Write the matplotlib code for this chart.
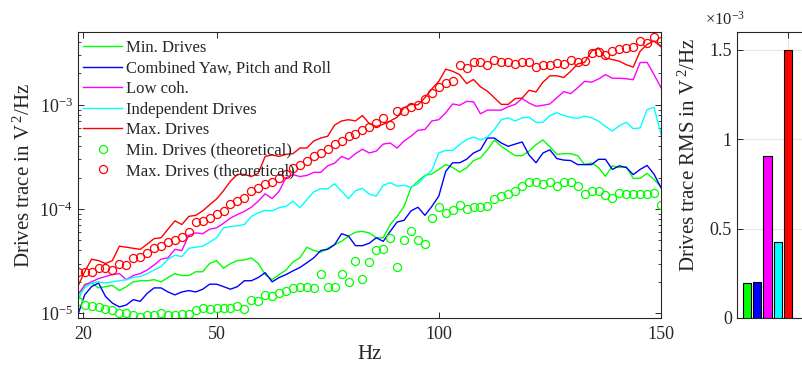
import numpy as np
import matplotlib
matplotlib.use('Agg')
import matplotlib.pyplot as plt
from matplotlib.ticker import FuncFormatter

plt.rcParams['font.family'] = ['Liberation Serif', 'DejaVu Serif']
plt.rcParams['mathtext.fontset'] = 'custom'
plt.rcParams['mathtext.rm'] = 'Liberation Serif'
plt.rcParams['mathtext.it'] = 'Liberation Serif:italic'

# frequency grid (1.5625 Hz resolution, 18.75 .. 150 Hz)
freq = np.arange(12, 97) * 1.5625

min_drives = [1.3e-5, 1.9e-5, 1.95e-5, 1.75e-5, 1.8e-5, 1.85e-5, 1.65e-5, 1.8e-5, 2.0e-5, 2.05e-5,
              2.05e-5, 2.1e-5, 2.0e-5, 2.2e-5, 2.4e-5, 2.3e-5, 2.3e-5, 2.5e-5, 2.5e-5, 3.0e-5,
              3.2e-5, 2.7e-5, 3.0e-5, 3.2e-5, 3.25e-5, 3.4e-5, 3.0e-5, 2.35e-5, 2.1e-5, 2.35e-5,
              2.6e-5, 3.1e-5, 3.4e-5, 4.3e-5, 4.0e-5, 3.85e-5, 4.2e-5, 4.55e-5, 4.9e-5, 5.5e-5,
              6.0e-5, 6.1e-5, 5.9e-5, 5.3e-5, 5.3e-5, 7.1e-5, 8.5e-5, 1.06e-4, 1.6e-4, 1.85e-4,
              2.1e-4, 2.17e-4, 2.4e-4, 2.67e-4, 2.5e-4, 2.27e-4, 2.48e-4, 2.92e-4, 3.1e-4, 3.7e-4,
              4.6e-4, 4.0e-4, 3.6e-4, 3.25e-4, 3.25e-4, 3.6e-4, 4.15e-4, 4.6e-4, 3.95e-4, 3.35e-4,
              3.4e-4, 3.4e-4, 3.25e-4, 2.67e-4, 2.77e-4, 2.5e-4, 2.06e-4, 2.6e-4, 2.5e-4, 2.55e-4,
              1.97e-4, 1.97e-4, 2.2e-4, 1.92e-4, 1.63e-4]

combined = [9.5e-6, 1.5e-5, 1.8e-5, 1.95e-5, 1.45e-5, 1.25e-5, 1.15e-5, 1.2e-5, 1.35e-5, 1.3e-5,
            1.55e-5, 1.75e-5, 1.75e-5, 1.6e-5, 1.5e-5, 1.6e-5, 1.65e-5, 1.6e-5, 1.7e-5, 1.9e-5,
            1.9e-5, 1.8e-5, 1.7e-5, 1.8e-5, 2.05e-5, 2.05e-5, 2.2e-5, 2.45e-5, 2.0e-5, 2.2e-5,
            2.35e-5, 2.55e-5, 2.75e-5, 3.05e-5, 3.4e-5, 4.0e-5, 4.1e-5, 4.55e-5, 5.8e-5, 5.5e-5,
            4.45e-5, 4.45e-5, 4.7e-5, 5.3e-5, 4.9e-5, 6.1e-5, 7.5e-5, 7.8e-5, 9.6e-5, 1.04e-4,
            8.7e-5, 1.06e-4, 1.33e-4, 2.3e-4, 2.78e-4, 2.78e-4, 3.0e-4, 3.45e-4, 3.7e-4, 4.8e-4,
            4.8e-4, 4.3e-4, 4.0e-4, 4.2e-4, 4.4e-4, 3.3e-4, 2.78e-4, 3.45e-4, 3.7e-4, 3.05e-4,
            2.95e-4, 2.92e-4, 2.67e-4, 2.67e-4, 2.67e-4, 3.0e-4, 3.0e-4, 2.4e-4, 2.6e-4, 2.5e-4,
            2.14e-4, 2.4e-4, 2.62e-4, 2.16e-4, 1.6e-4]

low_coh = [1.5e-5, 1.85e-5, 2.0e-5, 2.15e-5, 2.25e-5, 2.35e-5, 2.4e-5, 2.1e-5, 2.3e-5, 2.4e-5,
           2.6e-5, 2.9e-5, 3.3e-5, 3.4e-5, 4.1e-5, 4.0e-5, 5.6e-5, 5.9e-5, 5.8e-5, 6.4e-5,
           6.6e-5, 7.3e-5, 8.2e-5, 8.85e-5, 9.5e-5, 1.04e-4, 1.19e-4, 1.4e-4, 1.26e-4, 1.48e-4,
           2.0e-4, 2.14e-4, 2.05e-4, 2.1e-4, 2.25e-4, 2.25e-4, 2.6e-4, 2.75e-4, 3.2e-4, 3.0e-4,
           3.4e-4, 3.75e-4, 3.45e-4, 3.6e-4, 4.2e-4, 4.3e-4, 3.85e-4, 4.5e-4, 5.0e-4, 5.7e-4,
           5.8e-4, 7.0e-4, 7.2e-4, 8.4e-4, 1.02e-3, 9.9e-4, 1.08e-3, 1.07e-3, 8.2e-4, 8.9e-4,
           8.9e-4, 8.9e-4, 9.6e-4, 1.01e-3, 1.15e-3, 1.04e-3, 9.7e-4, 9.9e-4, 1.02e-3, 1.17e-3,
           1.34e-3, 1.28e-3, 1.46e-3, 1.68e-3, 1.65e-3, 1.77e-3, 1.95e-3, 1.8e-3, 1.8e-3, 1.78e-3,
           1.74e-3, 2.55e-3, 2.55e-3, 1.95e-3, 1.46e-3]

independent = [1.4e-5, 1.75e-5, 1.95e-5, 2.0e-5, 1.95e-5, 2.0e-5, 2.05e-5, 2.1e-5, 2.2e-5, 2.25e-5,
               2.4e-5, 2.6e-5, 2.8e-5, 3.3e-5, 3.6e-5, 3.5e-5, 4.2e-5, 4.3e-5, 4.4e-5, 4.8e-5,
               5.3e-5, 6.6e-5, 6.8e-5, 6.9e-5, 7.1e-5, 8.5e-5, 9.2e-5, 9.7e-5, 9.6e-5, 1.03e-4,
               1.06e-4, 1.19e-4, 1.03e-4, 1.23e-4, 1.46e-4, 1.57e-4, 1.56e-4, 1.75e-4, 1.48e-4, 1.26e-4,
               1.5e-4, 1.58e-4, 1.39e-4, 1.33e-4, 1.69e-4, 1.79e-4, 1.66e-4, 1.69e-4, 1.62e-4, 1.75e-4,
               2.06e-4, 2.35e-4, 3.45e-4, 3.65e-4, 3.65e-4, 4.16e-4, 4.65e-4, 4.9e-4, 4.6e-4, 4.9e-4,
               5.8e-4, 7.2e-4, 7.5e-4, 7.0e-4, 7.5e-4, 7.6e-4, 6.8e-4, 6.8e-4, 7.9e-4, 8.4e-4,
               7.9e-4, 7.6e-4, 7.4e-4, 7.8e-4, 7.5e-4, 7.0e-4, 6.2e-4, 5.6e-4, 6.3e-4, 6.8e-4,
               5.9e-4, 6.0e-4, 9.0e-4, 9.5e-4, 5.2e-4]

max_drives = [1.8e-5, 2.5e-5, 3.3e-5, 3.2e-5, 3.0e-5, 3.2e-5, 4.4e-5, 4.3e-5, 4.2e-5, 4.1e-5,
              4.6e-5, 5.2e-5, 5.3e-5, 6.4e-5, 7.7e-5, 7.1e-5, 8.5e-5, 8.7e-5, 9.6e-5, 1.1e-4,
              1.25e-4, 1.5e-4, 1.85e-4, 2.15e-4, 2.15e-4, 2.05e-4, 2.2e-4, 3.2e-4, 3.3e-4, 3.2e-4,
              3.35e-4, 3.4e-4, 3.85e-4, 3.85e-4, 4.5e-4, 4.8e-4, 5.0e-4, 6.4e-4, 7.0e-4, 7.2e-4,
              7.0e-4, 7.9e-4, 6.6e-4, 6.2e-4, 6.5e-4, 7.0e-4, 7.6e-4, 9.4e-4, 1.01e-3, 1.0e-3,
              1.17e-3, 1.42e-3, 1.68e-3, 2.2e-3, 2.1e-3, 1.95e-3, 1.6e-3, 1.75e-3, 1.49e-3, 1.35e-3,
              1.17e-3, 1.01e-3, 1.01e-3, 1.15e-3, 1.16e-3, 1.38e-3, 1.33e-3, 1.65e-3, 1.9e-3, 1.9e-3,
              1.83e-3, 2.1e-3, 2.47e-3, 2.55e-3, 3.27e-3, 3.52e-3, 2.82e-3, 2.72e-3, 2.62e-3, 2.43e-3,
              2.3e-3, 3.27e-3, 3.8e-3, 4.1e-3, 3.6e-3]

min_theo = [1.3e-5, 1.2e-5, 1.17e-5, 1.15e-5, 1.1e-5, 1.07e-5, 1.01e-5, 1.0e-5, 9.6e-6, 9.1e-6,
            9.6e-6, 9.6e-6, 1.01e-5, 9.6e-6, 9.6e-6, 9.8e-6, 9.8e-6, 1.07e-5, 1.12e-5, 1.11e-5,
            1.12e-5, 1.12e-5, 1.12e-5, 1.18e-5, 1.11e-5, 1.35e-5, 1.3e-5, 1.51e-5, 1.45e-5, 1.57e-5,
            1.63e-5, 1.75e-5, 1.78e-5, 1.77e-5, 1.75e-5, 2.4e-5, 1.8e-5, 1.77e-5, 2.4e-5, 2.0e-5,
            3.2e-5, 2.15e-5, 3.1e-5, 4.0e-5, 4.15e-5, 5.3e-5, 2.8e-5, 5.0e-5, 6.1e-5, 5.0e-5,
            4.6e-5, 8.2e-5, 1.05e-4, 9.2e-5, 9.7e-5, 1.09e-4, 9.9e-5, 1.05e-4, 1.04e-4, 1.08e-4,
            1.24e-4, 1.33e-4, 1.38e-4, 1.48e-4, 1.66e-4, 1.83e-4, 1.8e-4, 1.75e-4, 1.83e-4, 1.66e-4,
            1.83e-4, 1.83e-4, 1.66e-4, 1.4e-4, 1.5e-4, 1.48e-4, 1.35e-4, 1.29e-4, 1.41e-4, 1.38e-4,
            1.38e-4, 1.38e-4, 1.38e-4, 1.41e-4, 1.09e-4]

max_theo = [2.5e-5, 2.5e-5, 2.5e-5, 2.7e-5, 2.7e-5, 2.6e-5, 3.0e-5, 2.9e-5, 3.4e-5, 3.5e-5,
            3.8e-5, 4.2e-5, 4.4e-5, 4.8e-5, 5.0e-5, 5.4e-5, 6.0e-5, 7.5e-5, 7.7e-5, 8.2e-5,
            8.9e-5, 9.5e-5, 1.12e-4, 1.2e-4, 1.28e-4, 1.48e-4, 1.6e-4, 1.72e-4, 1.83e-4, 2.0e-4,
            2.17e-4, 2.5e-4, 2.67e-4, 2.88e-4, 3.2e-4, 3.45e-4, 3.8e-4, 4.2e-4, 4.5e-4, 5.0e-4,
            5.2e-4, 5.7e-4, 6.1e-4, 6.7e-4, 7.4e-4, 6.4e-4, 8.7e-4, 8.7e-4, 9.5e-4, 9.9e-4,
            1.15e-3, 1.3e-3, 1.48e-3, 1.62e-3, 1.7e-3, 2.4e-3, 2.26e-3, 2.56e-3, 2.56e-3, 2.43e-3,
            2.68e-3, 2.56e-3, 2.56e-3, 2.47e-3, 2.56e-3, 2.56e-3, 2.3e-3, 2.4e-3, 2.43e-3, 2.5e-3,
            2.47e-3, 2.7e-3, 2.55e-3, 2.62e-3, 3.15e-3, 3.2e-3, 3.03e-3, 3.3e-3, 3.45e-3, 3.5e-3,
            3.57e-3, 4.1e-3, 3.95e-3, 4.45e-3, 4.1e-3]

labels = ['Min. Drives', 'Combined Yaw, Pitch and Roll', 'Low coh.', 'Independent Drives',
          'Max. Drives', 'Min. Drives (theoretical)', 'Max. Drives (theoretical)']
rms_values = [0.197e-3, 0.199e-3, 0.909e-3, 0.426e-3, 1.5e-3]

c_green = '#00ff00'
c_blue = '#0000ff'
c_mag = '#ff00ff'
c_cyan = '#00ffff'
c_red = '#ff0000'
dark = '#262626'

fig = plt.figure(figsize=(8.02, 3.72), dpi=100)

# main spectrum axes
ax = fig.add_axes([77.7 / 802, 1 - 318 / 372, 583.3 / 802, 286 / 372])
lw = 1.0
ax.plot(freq, min_drives, color=c_green, lw=lw, label=labels[0])
ax.plot(freq, combined, color=c_blue, lw=lw, label=labels[1])
ax.plot(freq, low_coh, color=c_mag, lw=lw, label=labels[2])
ax.plot(freq, independent, color=c_cyan, lw=lw, label=labels[3])
ax.plot(freq, max_drives, color=c_red, lw=lw, label=labels[4])
ax.plot(freq, min_theo, 'o', color=c_green, mfc='none', ms=5.8, mew=0.9, label=labels[5])
ax.plot(freq, max_theo, 'o', color=c_red, mfc='none', ms=5.8, mew=0.9, label=labels[6])

ax.set_yscale('log')
ax.set_xlim(18.75, 150)
ax.set_ylim(9e-6, 5e-3)
ax.set_xticks([20, 50, 100, 150])
ax.tick_params(which='both', direction='in', top=True, right=True, colors=dark, labelsize=13)
ax.tick_params(which='major', length=4.5, width=0.7)
ax.tick_params(which='minor', length=2.5, width=0.6)
ax.tick_params(axis='x', pad=6)
for s in ax.spines.values():
    s.set_color(dark)
    s.set_linewidth(0.8)
ax.set_xlabel('Hz', fontsize=15, color=dark)
ax.set_ylabel(r'Drives trace in V$\,^{2}$/Hz', fontsize=15, color=dark)
ax.yaxis.set_label_coords(-0.073, 0.5)
ax.xaxis.set_label_coords(0.5, -0.095)

leg = ax.legend(loc='upper left', bbox_to_anchor=(0.009, 0.972), frameon=False, fontsize=12,
                handlelength=2.35, handletextpad=0.25, labelspacing=0.27, numpoints=1,
                borderaxespad=0.0, borderpad=0.0)
for t in leg.get_texts():
    t.set_color(dark)

# RMS bar axes (extends past the right edge of the figure)
bx = fig.add_axes([736.7 / 802, 1 - 318 / 372, 103 / 802, 286 / 372])
bar_colors = [c_green, c_blue, c_mag, c_cyan, c_red]
bx.bar(np.arange(1, 6), rms_values, width=0.8, color=bar_colors, edgecolor='black', lw=0.8, zorder=3)
bx.set_xlim(0, 10)
bx.set_ylim(0, 1.6e-3)
bx.set_xticks([0, 5, 10])
bx.set_xticklabels([])
bx.set_yticks([0, 0.5e-3, 1e-3, 1.5e-3])
bx.yaxis.set_major_formatter(FuncFormatter(lambda v, p: '%g' % round(v * 1e3, 3)))
bx.grid(True, color='#e6e6e6', lw=0.8, zorder=0)
bx.tick_params(direction='in', top=True, right=True, colors=dark, labelsize=13, length=4.5, width=0.7)
for s in bx.spines.values():
    s.set_color(dark)
    s.set_linewidth(0.8)
bx.set_ylabel(r'Drives trace RMS in V$\,^{2}$/Hz', fontsize=15, color=dark)
bx.yaxis.set_label_coords(-0.356, 0.57)
bx.text(-0.11, 1.01, r'$\times\mathdefault{10^{-3}}$', transform=bx.transAxes, ha='center',
        va='bottom', fontsize=12, color=dark)

fig.savefig('out.png', dpi=100)
